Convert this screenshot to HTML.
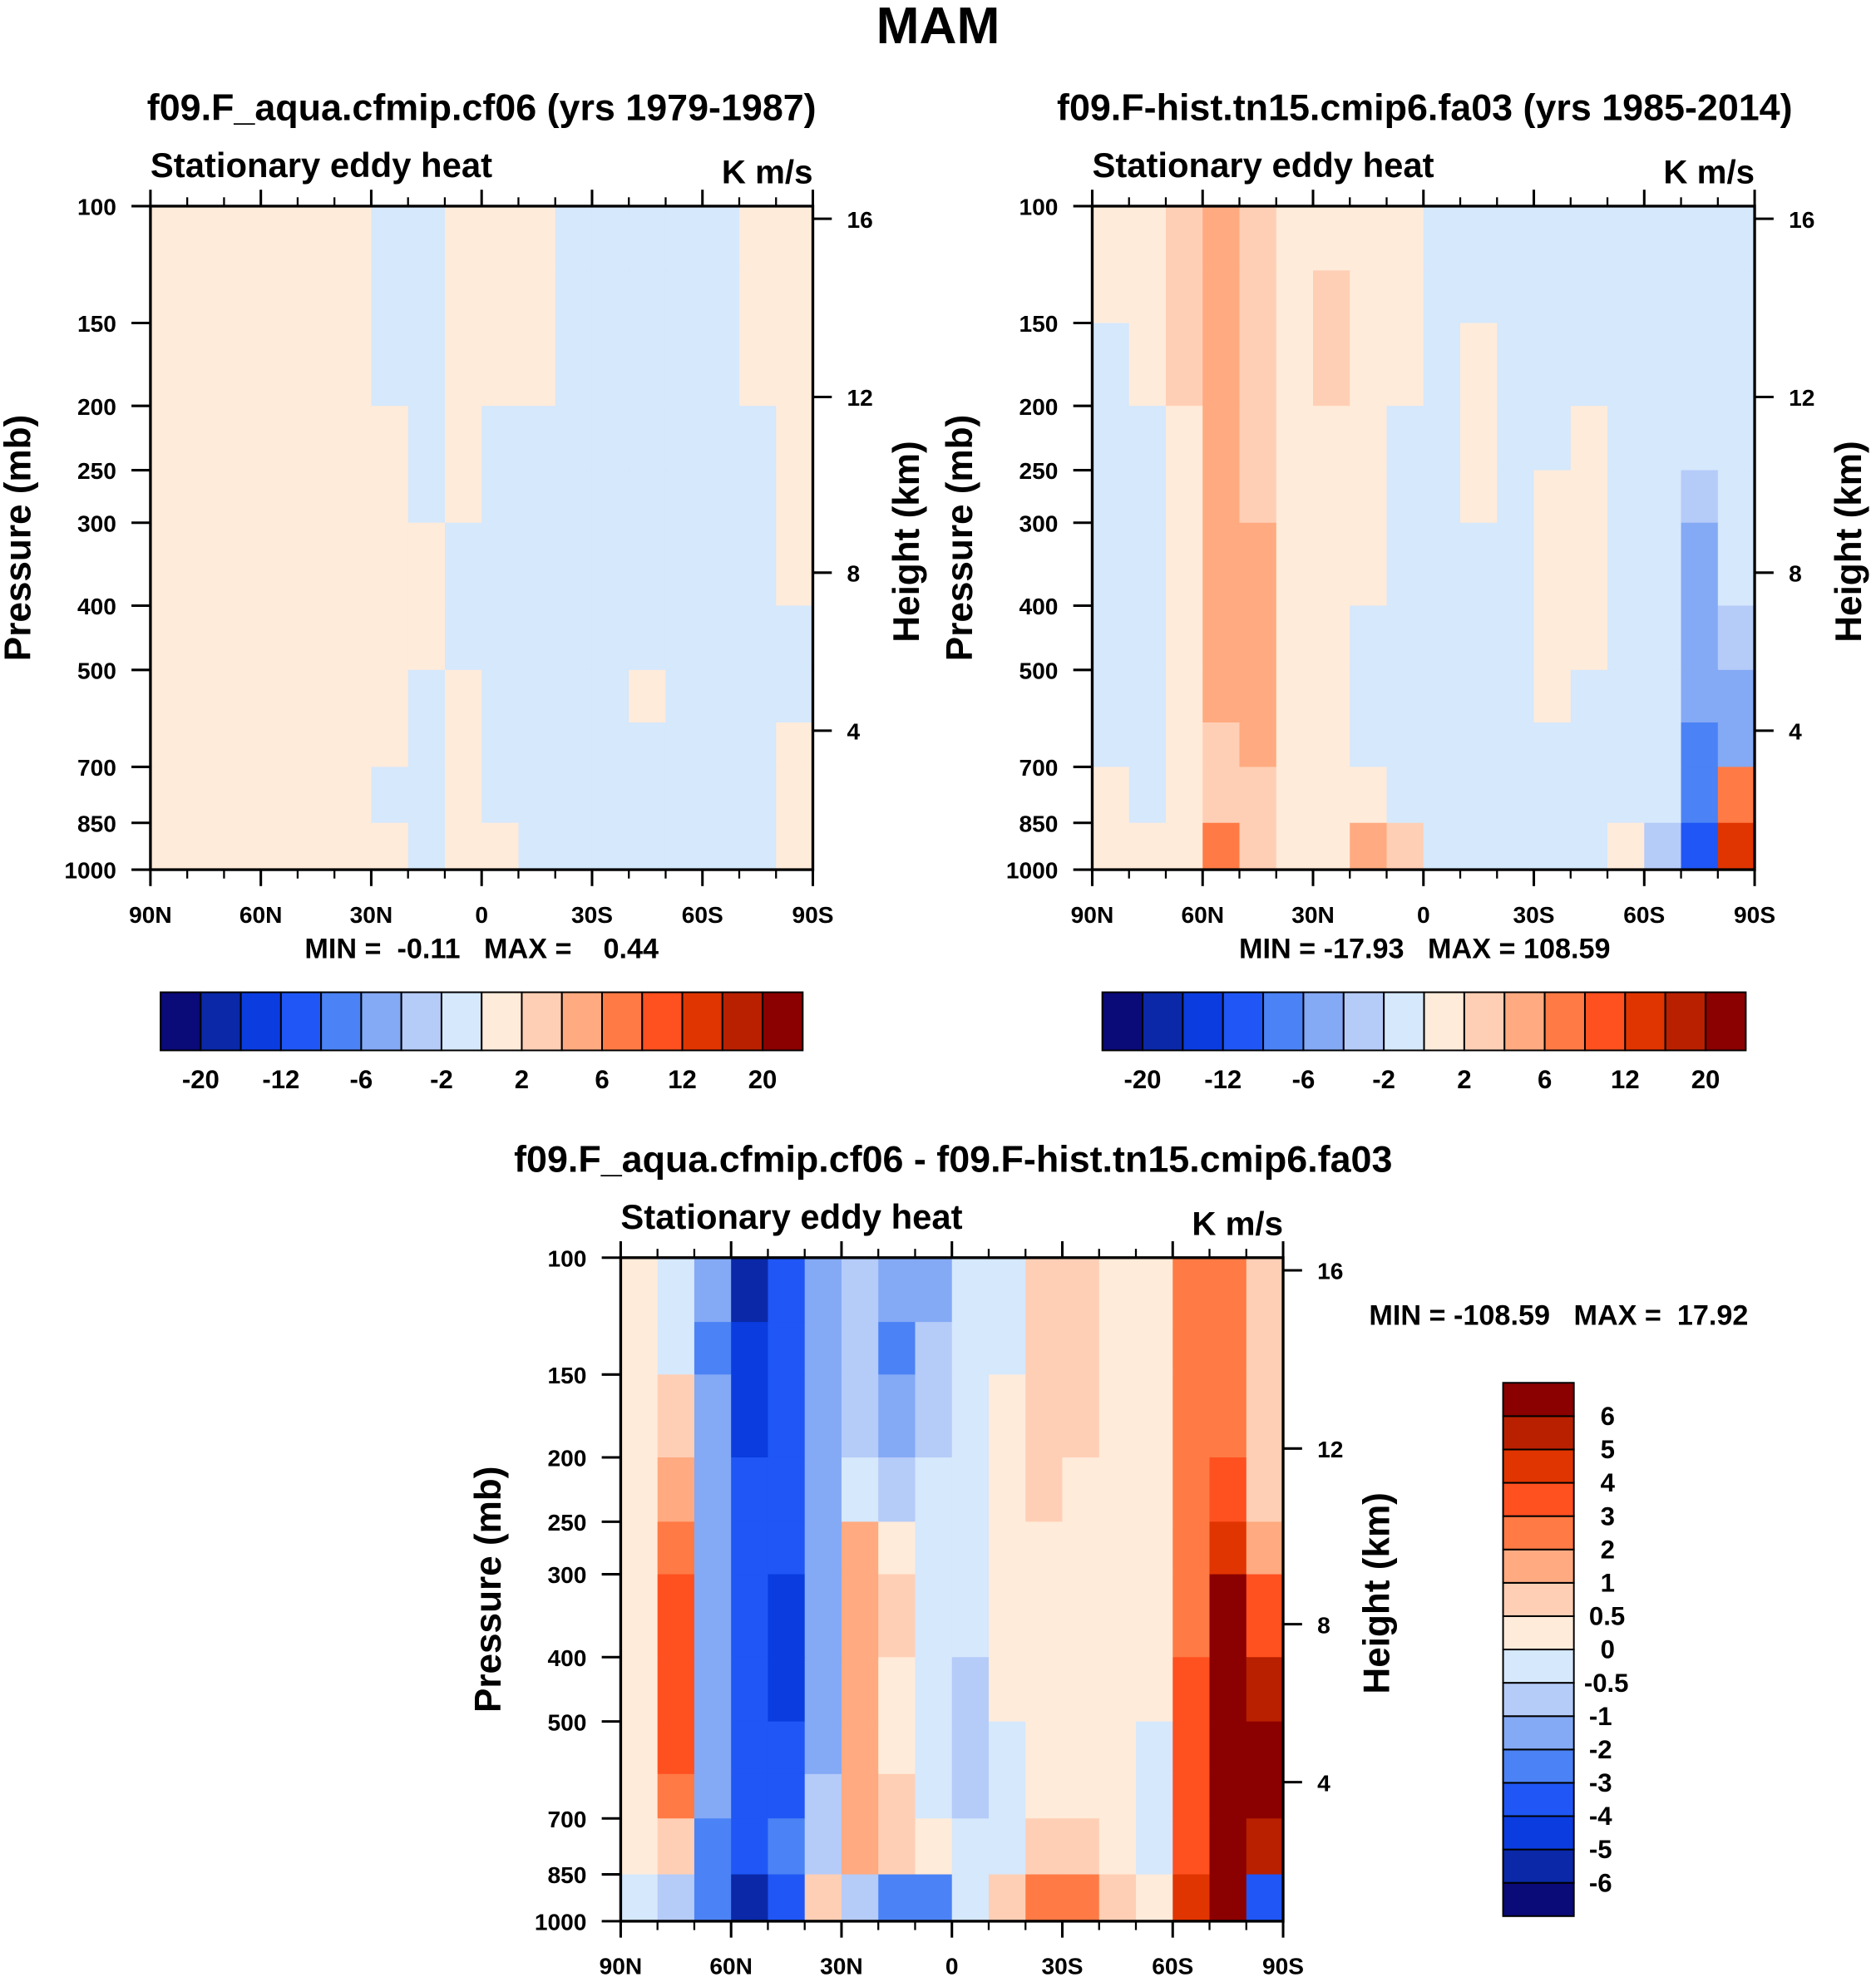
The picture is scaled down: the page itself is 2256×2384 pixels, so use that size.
<!DOCTYPE html>
<html><head><meta charset="utf-8"><style>
html,body{margin:0;padding:0;background:#fff}
svg{display:block}
text{font-family:"Liberation Sans",Arial,sans-serif;font-weight:bold;fill:#000;white-space:pre}
</style></head><body>
<svg id="fig" width="2256" height="2384" viewBox="0 0 1484 1568" xmlns="http://www.w3.org/2000/svg">
<text x="742" y="34" font-size="41" text-anchor="middle">MAM</text>
</svg>
<script>
const NS="http://www.w3.org/2000/svg";
const svg=document.getElementById('fig');
const colors=["#0a0a78","#0a28a8","#0a3ce0","#1f56f5","#4b82f5","#84a9f5","#b5cbf8","#d5e8fc","#ffebda","#ffcfb5","#ffaa80","#ff7a45","#ff5020","#e03500","#b82000","#8b0000"];
const levelsAbs=[-20,-16,-12,-8,-6,-4,-2,0,2,4,6,8,12,16,20];
const levelsAbsLabels=["-20","-12","-6","-2","2","6","12","20"];
const levelsDiff=[-6,-5,-4,-3,-2,-1,-0.5,0,0.5,1,2,3,4,5,6];
const levelsDiffLabels=["-6","-5","-4","-3","-2","-1","-0.5","0","0.5","1","2","3","4","5","6"];
const pressureBounds=[100,125,150,200,250,300,400,500,600,700,850,1000];
const pressureTicks=[100,150,200,250,300,400,500,700,850,1000];
const latTicks=["90N","60N","30N","0","30S","60S","90S"];
const heightTicks=[16,12,8,4];
const heightTickY=[10,151,290,415];
const field1=[
[0.1,0.1,0.1,0.1,0.1,0.1,-0.05,-0.05,0.1,0.1,0.1,-0.05,-0.05,-0.05,-0.05,-0.05,0.1,0.1],
[0.1,0.1,0.1,0.1,0.1,0.1,-0.05,-0.05,0.1,0.1,0.1,-0.05,-0.05,-0.05,-0.05,-0.05,0.1,0.1],
[0.1,0.1,0.1,0.1,0.1,0.1,-0.05,-0.05,0.1,0.1,0.1,-0.05,-0.05,-0.05,-0.05,-0.05,0.1,0.1],
[0.1,0.1,0.1,0.1,0.1,0.1,0.1,-0.05,0.1,-0.05,-0.05,-0.05,-0.05,-0.05,-0.05,-0.05,-0.05,0.1],
[0.1,0.1,0.1,0.1,0.1,0.1,0.1,-0.05,0.1,-0.05,-0.05,-0.05,-0.05,-0.05,-0.05,-0.05,-0.05,0.1],
[0.1,0.1,0.1,0.1,0.1,0.1,0.1,0.1,-0.05,-0.05,-0.05,-0.05,-0.05,-0.05,-0.05,-0.05,-0.05,0.1],
[0.1,0.1,0.1,0.1,0.1,0.1,0.1,0.1,-0.05,-0.05,-0.05,-0.05,-0.05,-0.05,-0.05,-0.05,-0.05,-0.05],
[0.1,0.1,0.1,0.1,0.1,0.1,0.1,-0.05,0.1,-0.05,-0.05,-0.05,-0.05,0.1,-0.05,-0.05,-0.05,-0.05],
[0.1,0.1,0.1,0.1,0.1,0.1,0.1,-0.05,0.1,-0.05,-0.05,-0.05,-0.05,-0.05,-0.05,-0.05,-0.05,0.1],
[0.1,0.1,0.1,0.1,0.1,0.1,-0.05,-0.05,0.1,-0.05,-0.05,-0.05,-0.05,-0.05,-0.05,-0.05,-0.05,0.1],
[0.1,0.1,0.1,0.1,0.1,0.1,0.1,-0.05,0.1,0.1,-0.05,-0.05,-0.05,-0.05,-0.05,-0.05,-0.05,0.1]];
const field2=[
[1,0.5,2,4,2,1,1,1,0.5,-0.5,-0.5,-0.5,-0.5,-0.5,-0.5,-0.5,-1,-0.5],
[1,0.5,2,4,2,1,2,1,0.5,-0.5,-0.5,-0.5,-0.5,-0.5,-0.5,-0.5,-2,-0.5],
[-0.5,0.5,2,4,2,1,2,1,0.5,-0.5,0.5,-0.5,-0.5,-0.5,-0.5,-0.5,-2,-0.5],
[-0.5,-0.5,1,4,2,1,1,0.5,-0.5,-0.5,0.5,-0.5,-0.5,0.5,-0.5,-0.5,-2,-0.5],
[-0.5,-1,1,4,2,1,0.5,0.5,-0.5,-0.5,0.5,-0.5,0.5,0.5,-0.5,-0.5,-4,-0.5],
[-0.5,-2,1,4,4,1,0.5,0.5,-0.5,-0.5,-0.5,-0.5,0.5,0.5,-0.5,-0.5,-6,-2],
[-0.5,-2,1,4,4,1,0.5,-0.5,-0.5,-0.5,-0.5,-0.5,0.5,0.5,-0.5,-0.5,-6,-4],
[-0.5,-1,0.5,4,4,1,0.5,-0.5,-0.5,-0.5,-0.5,-0.5,0.5,-0.5,-0.5,-0.5,-6,-6],
[-0.5,-0.5,0.5,2,4,1,0.5,-0.5,-0.5,-0.5,-0.5,-0.5,-0.5,-0.5,-0.5,-1,-8,-6],
[0.5,-0.5,1,2,2,1,0.5,0.5,-0.5,-0.5,-0.5,-0.5,-0.5,-0.5,-0.5,-2,-8,6],
[0.5,0.5,1,6,2,1,1,4,2,-0.5,-0.5,-1,-0.5,-0.5,0.5,-4,-12,12]];
const field3=[
[0.2,-0.3,-2,-6,-4,-2,-0.7,-2,-1.5,-0.3,-0.3,0.7,0.7,0.3,0.3,2,2.5,0.7],
[0.2,-0.3,-2.5,-5,-4,-1.5,-0.7,-2.5,-1,-0.3,-0.3,0.7,0.7,0.3,0.3,2,2.5,0.7],
[0.3,0.7,-2,-5,-4,-1.5,-1,-2,-0.7,-0.3,0.3,0.7,0.7,0.3,0.3,2,2.5,0.7],
[0.3,1.5,-2,-4,-4,-2,-0.3,-0.7,-0.3,-0.3,0.3,0.7,0.3,0.3,0.3,2,3,0.7],
[0.3,2.5,-2,-4,-4,-2,1.5,0.3,-0.3,-0.3,0.3,0.3,0.3,0.3,0.3,2,4,1.5],
[0.3,3.5,-2,-4,-5,-2,1.5,0.7,-0.3,-0.3,0.3,0.3,0.3,0.3,0.3,2.5,6,3],
[0.3,3.5,-2,-4,-5,-2,1.5,0.3,-0.3,-0.7,0.3,0.3,0.3,0.3,0.3,3,6.5,5],
[0.3,3,-2,-4,-4,-1.5,1.5,0.3,-0.3,-0.7,-0.3,0.3,0.3,0.3,-0.3,3,6.5,6],
[0.3,2,-2,-4,-4,-1,1.5,0.7,-0.3,-0.7,-0.3,0.3,0.3,0.3,-0.3,3,6.5,6],
[0.3,0.7,-2.5,-4,-3,-0.7,1.5,0.7,0.3,-0.3,-0.3,0.7,0.7,0.3,-0.3,3,6.5,5],
[-0.3,-0.7,-3,-6,-4,0.7,-0.7,-3,-3,-0.3,0.7,2,2,0.7,0.3,4,6.5,-4]];

function el(tag,attrs,parent,txt){const e=document.createElementNS(NS,tag);for(const k in attrs)e.setAttribute(k,attrs[k]);if(txt!==undefined)e.textContent=txt;(parent||svg).appendChild(e);return e;}
function cls(v,lv){let i=0;for(const l of lv)if(v>=l)i++;return i;}

function panel(name,x0,y0,field,lv,title,titleX,titleY){
  const W=524,H=525;
  const g=el('g',{},svg);
  
  
  const xs=c=>x0+c*W/field[0].length;
  const ys=p=>y0+Math.log10(p/100)*H;
  field.forEach((row,r)=>row.forEach((v,c)=>{
    const rc=el('rect',{x:xs(c),y:ys(pressureBounds[r]),width:W/row.length+0.6,height:ys(pressureBounds[r+1])-ys(pressureBounds[r])+0.6,fill:colors[cls(v,lv)]},g);
    
    
  }));
  el('rect',{x:x0,y:y0,width:W,height:H,fill:'none',stroke:'#000','stroke-width':2.2},g);
  const t=el('text',{x:titleX,y:titleY,'font-size':29.5,'text-anchor':'middle'},g,title);
  
  
  const s=el('text',{x:x0,y:y0-23,'font-size':27.5},g,'Stationary eddy heat');
  
  
  const u=el('text',{x:x0+W,y:y0-18,'font-size':26.5,'text-anchor':'end'},g,'K m/s');
  
  
  pressureTicks.forEach(p=>{
    const y=ys(p);
    el('line',{x1:x0-15,x2:x0,y1:y,y2:y,stroke:'#000','stroke-width':2},g);
    const tl=el('text',{x:x0-27,y:y+7,'font-size':18.5,'text-anchor':'end'},g,String(p));
    
    
  });
  latTicks.forEach((l,i)=>{
    const x=x0+i*W/6;
    el('line',{x1:x,x2:x,y1:y0+H,y2:y0+H+13,stroke:'#000','stroke-width':2},g);
    el('line',{x1:x,x2:x,y1:y0,y2:y0-13,stroke:'#000','stroke-width':2},g);
    if(i<6){for(let k=1;k<3;k++){const xm=x+k*W/18;
      el('line',{x1:xm,x2:xm,y1:y0+H,y2:y0+H+7,stroke:'#000','stroke-width':1.5},g);
      el('line',{x1:xm,x2:xm,y1:y0,y2:y0-7,stroke:'#000','stroke-width':1.5},g);}}
    const tl=el('text',{x:x,y:y0+H+42,'font-size':18.5,'text-anchor':'middle'},g,l);
    
    
  });
  heightTicks.forEach((h,i)=>{
    const y=y0+heightTickY[i];
    el('line',{x1:x0+W,x2:x0+W+15,y1:y,y2:y,stroke:'#000','stroke-width':2},g);
    const tl=el('text',{x:x0+W+27,y:y+7,'font-size':18.5},g,String(h));
    
    
  });
  const ya=el('text',{transform:`translate(${x0-95},${y0+H/2}) rotate(-90)`,'font-size':29,'text-anchor':'middle'},g,'Pressure (mb)');
  
  
  const yb=el('text',{transform:`translate(${x0+W+84},${y0+H/2+3}) rotate(-90)`,'font-size':29,'text-anchor':'middle'},g,'Height (km)');
  
  
}

function hbar(name,x0,y0,w,h,labels){
  const g=el('g',{},svg);
  
  
  const bw=w/16;
  colors.forEach((c,i)=>{const r=el('rect',{x:x0+i*bw,y:y0,width:bw,height:h,fill:c,stroke:'#000','stroke-width':1.3},g);
    });
  labels.forEach((l,i)=>{const t=el('text',{x:x0+(2*i+1)*bw,y:y0+h+30,'font-size':20.5,'text-anchor':'middle'},g,l);
    });
}
function vbar(name,x0,y0,w,h,labels){
  const g=el('g',{},svg);
  
  
  const bh=h/16;
  colors.forEach((c,i)=>{const r=el('rect',{x:x0,y:y0+(15-i)*bh,width:w,height:bh,fill:c,stroke:'#000','stroke-width':1.3},g);
    });
  labels.forEach((l,i)=>{
    const xx=l.length>=4?x0+w+8:(l.length===3?x0+w+12:(l.startsWith('-')?x0+w+12:x0+w+21));
    const t=el('text',{x:xx,y:y0+(15-i)*bh+7,'font-size':20.5},g,l);
    });
}

panel('panel-aqua',119,163,field1,levelsAbs,'f09.F_aqua.cfmip.cf06 (yrs 1979-1987)',381,95);
panel('panel-hist',864,163,field2,levelsAbs,'f09.F-hist.tn15.cmip6.fa03 (yrs 1985-2014)',1127,95);
panel('panel-diff',491,995,field3,levelsDiff,'f09.F_aqua.cfmip.cf06 - f09.F-hist.tn15.cmip6.fa03',754,927);

let m=el('text',{x:381,y:758,'font-size':22.5,'text-anchor':'middle'},svg,'MIN =  -0.11   MAX =    0.44');

m=el('text',{x:1127,y:758,'font-size':22.5,'text-anchor':'middle'},svg,'MIN = -17.93   MAX = 108.59');

m=el('text',{x:1083,y:1048,'font-size':22.5},svg,'MIN = -108.59   MAX =  17.92');


hbar('colorbar-aqua',127,785,508,46,levelsAbsLabels);
hbar('colorbar-hist',872,785,509,46,levelsAbsLabels);
vbar('colorbar-diff',1189,1094,56,422,levelsDiffLabels);
</script>
</body></html>
